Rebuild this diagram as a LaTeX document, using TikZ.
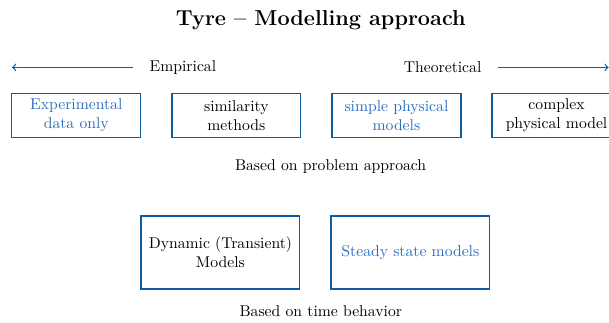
\documentclass[tikz,border=0pt]{standalone}
\usetikzlibrary{positioning}
\definecolor{boxblue}{RGB}{16,92,164}
\definecolor{textblue}{RGB}{40,110,190}
\tikzset{
  modelbox/.style={draw=boxblue, line width=0.8pt, align=center,
    minimum width=2.89cm, minimum height=1.0cm, inner sep=2pt},
  timebox/.style={modelbox, minimum width=3.56cm, minimum height=1.64cm},
  dirarrow/.style={draw=boxblue, line width=0.8pt, ->},
}
\begin{document}
\begin{tikzpicture}
\useasboundingbox (0,0) rectangle (13.65,7.22);
\node (title) at(7.19, 6.76) {\fontsize{13.8pt}{16pt}\selectfont\bfseries Tyre -- Modelling approach};
% direction of the approach
\node (emp) at(4.10, 5.71) {Empirical};
\node (theo) at(9.92, 5.71) {Theoretical};
\coordinate (empend) at(0.27, 5.71);
\coordinate (theoend) at(13.64, 5.71);
\draw[dirarrow] (emp.west) ++(-0.25,0) coordinate (empstart) -- (empend);
\draw[dirarrow] (theo.east) ++(0.25,0) coordinate (theostart) -- (theoend);
% based on problem approach
\node[modelbox, text=textblue] (exp) at(1.71, 4.63) {Experimental\\data only};
\node[modelbox, right=0.67cm of exp] (sim) {similarity\\methods};
\node[modelbox, right=0.67cm of sim, text=textblue] (simple) {simple physical\\models};
\node[modelbox, right=0.67cm of simple] (complex) {complex\\physical model};
\node (problem) at(7.41, 3.49) {Based on problem approach};
% based on time behavior
\node[timebox] (dyn) at(4.94, 1.56) {Dynamic (Transient)\\Models};
\node[timebox, right=0.67cm of dyn, text=textblue] (steady) {Steady state models};
\node (time) at(7.19, 0.25) {Based on time behavior};
\end{tikzpicture}
\end{document}
